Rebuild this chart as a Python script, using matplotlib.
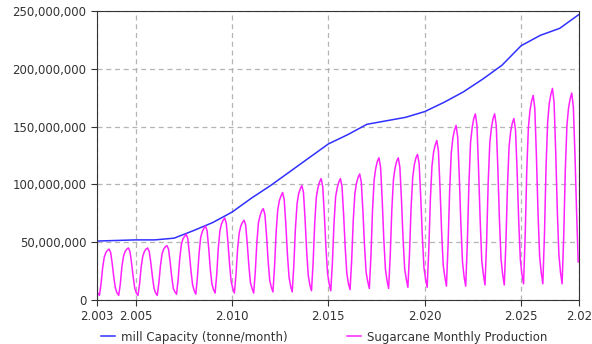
import matplotlib.pyplot as plt
from matplotlib.ticker import StrMethodFormatter
import numpy as np

# yearly mill capacity (million tonne/month), read at the start of each year
cap_years = [2003, 2004, 2005, 2006, 2007, 2008, 2009, 2010, 2011, 2012, 2013,
             2014, 2015, 2016, 2017, 2018, 2019, 2020, 2021, 2022, 2023, 2024,
             2025, 2026, 2027, 2028]
capacity = [51, 51.5, 52, 52, 53.5, 60, 67, 76, 88, 99, 111,
            123, 135, 143, 152, 155, 158, 163, 171, 180, 191, 203,
            220, 229, 235, 247]

# monthly sugarcane production (million tonne), one row per year, Jan..Dec
prod_years = list(range(2003, 2028))
production = [
    [6, 4, 14, 28, 37, 41, 43, 44, 41, 31, 19, 10],
    [6, 4, 14, 29, 38, 42, 44, 45, 42, 32, 20, 10],
    [6, 4, 14, 29, 38, 42, 44, 45, 42, 32, 20, 10],
    [6, 4, 15, 30, 40, 44, 46, 47, 44, 33, 20, 10],
    [7, 5, 18, 36, 48, 53, 55, 57, 53, 40, 25, 13],
    [8, 5, 20, 40, 54, 59, 62, 64, 60, 45, 27, 14],
    [9, 6, 22, 45, 60, 66, 69, 71, 66, 50, 31, 16],
    [10, 6, 22, 44, 58, 64, 67, 69, 65, 49, 30, 15],
    [10, 6, 24, 50, 67, 73, 77, 79, 74, 56, 34, 17],
    [11, 7, 29, 59, 78, 86, 90, 93, 87, 66, 40, 20],
    [12, 7, 30, 62, 83, 92, 96, 99, 93, 70, 42, 21],
    [13, 8, 32, 66, 89, 97, 102, 105, 98, 74, 45, 23],
    [14, 8, 32, 66, 89, 97, 102, 105, 98, 74, 45, 23],
    [14, 9, 34, 69, 92, 101, 106, 109, 102, 77, 47, 24],
    [16, 10, 38, 78, 104, 114, 120, 123, 115, 87, 53, 27],
    [17, 10, 38, 78, 104, 114, 120, 123, 115, 87, 53, 27],
    [18, 11, 40, 80, 106, 117, 123, 126, 118, 89, 55, 28],
    [18, 11, 43, 87, 116, 128, 134, 138, 129, 97, 59, 30],
    [20, 12, 47, 95, 127, 140, 147, 151, 141, 107, 65, 33],
    [20, 12, 49, 101, 136, 149, 157, 161, 151, 113, 69, 34],
    [22, 13, 50, 102, 136, 149, 157, 161, 151, 114, 69, 35],
    [22, 13, 49, 99, 133, 146, 153, 157, 147, 111, 68, 35],
    [22, 14, 55, 112, 149, 164, 172, 177, 166, 125, 76, 38],
    [24, 14, 56, 115, 154, 170, 178, 183, 171, 129, 78, 39],
    [24, 14, 55, 113, 151, 166, 174, 179, 167, 126, 77, 33],
]

xticks = [2003, 2005, 2010, 2015, 2020, 2025, 2028]
xticklabels = ["2.003", "2.005", "2.010", "2.015", "2.020", "2.025", "2.02"]

t = []
p = []
for y, row in zip(prod_years, production):
    for m, v in enumerate(row):
        t.append(y + (m + 0.5) / 12)
        p.append(v * 1e6)
cap = np.array(capacity) * 1e6

plt.rcParams['font.family'] = 'DejaVu Sans'
fig = plt.figure(figsize=(5.92, 3.44), dpi=100)
ax = fig.add_axes([0.1639, 0.1279, 0.8141, 0.8401])

l1, = ax.plot(cap_years, cap, color='#3030ff', lw=1.1, label="mill Capacity (tonne/month)")
l2, = ax.plot(t, p, color='#ff22ff', lw=1.1, label="Sugarcane Monthly Production")

ax.set_xlim(2003, 2028)
ax.set_ylim(0, 250e6)
ax.set_xticks(xticks)
ax.set_xticklabels(xticklabels)
ax.set_yticks(np.arange(0, 250e6 + 1, 50e6))
ax.yaxis.set_major_formatter(StrMethodFormatter('{x:,.0f}'))
ax.tick_params(labelsize=8.5, labelcolor='#333333', color='#333333', length=4)
ax.grid(True, color='#b4b4b4', linestyle=(0, (4, 3)), linewidth=0.9)
for s in ax.spines.values():
    s.set_color('#333333')

fig.legend(handles=[l1, l2], loc='center', bbox_to_anchor=(0.548, 0.02), ncol=2,
           frameon=False, fontsize=8.5, handlelength=1.2, handletextpad=0.5,
           columnspacing=5.0, labelcolor='#333333')

plt.savefig("out.png", dpi=100)
